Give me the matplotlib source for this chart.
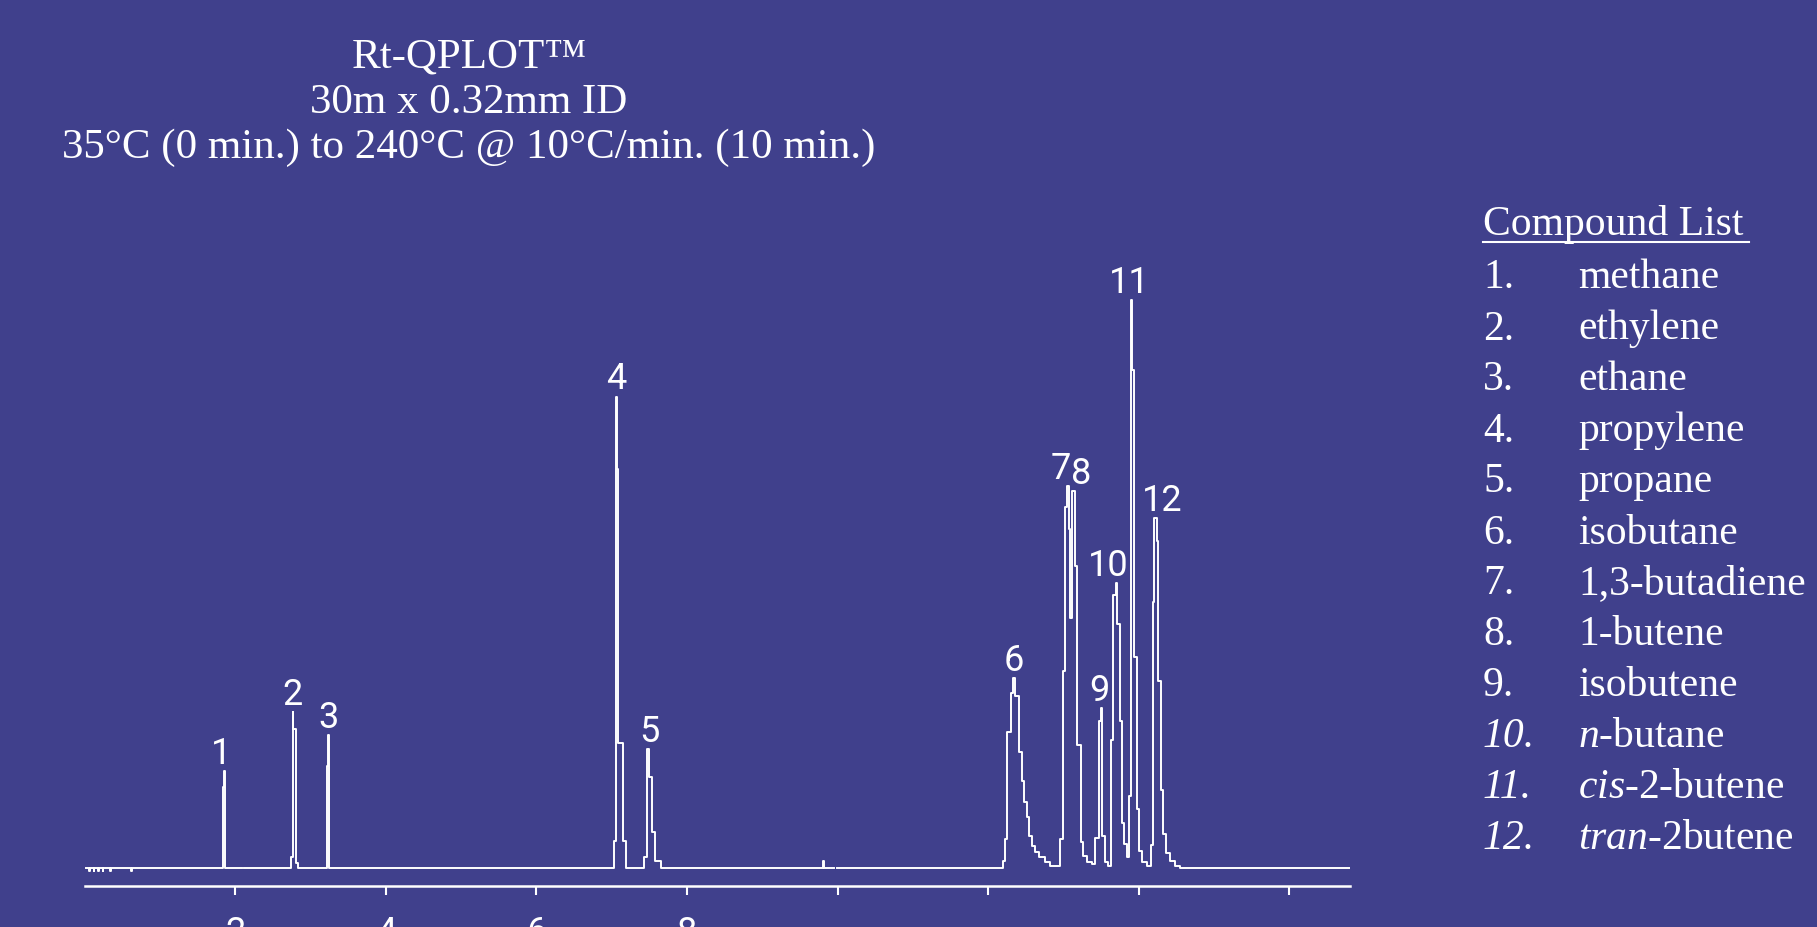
import matplotlib
matplotlib.use('Agg')
import matplotlib.pyplot as plt
from matplotlib import font_manager as fm
import numpy as np

BG = '#40408c'
FG = '#ffffff'


def first_font(names):
    for n in names:
        try:
            fm.findfont(fm.FontProperties(family=n), fallback_to_default=False)
            return n
        except ValueError:
            continue
    return 'DejaVu Sans'


# the peak numbers need a "1" without a foot bar
SANS = first_font(['Roboto', 'Noto Sans', 'Open Sans', 'Liberation Sans'])
SERIF = first_font(['Liberation Serif', 'DejaVu Serif'])

plt.rcParams.update({
    'font.family': SERIF,
    'mathtext.fontset': 'custom',
    'mathtext.rm': SERIF,
    'mathtext.it': SERIF + ':italic',
})

# ---------------------------------------------------------------- data
# detector trace, read off the picture as steps: level y holds from t onward
# (time in min, signal in % of peak 11; nan = gap in the drawn trace)
trace_t = [0.02, 0.060, 0.068, 0.120, 0.128, 0.180, 0.188, 0.240, 0.248,
           0.340, 0.348, 0.620, 0.628,
           1.834, 1.847, 1.869,
           2.09, 2.12,
           2.741, 2.763, 2.772, 2.805, 2.838,
           3.215, 3.228, 3.250,
           7.034, 7.060, 7.072, 7.087, 7.150, 7.190,
           7.433, 7.465, 7.500, 7.531, 7.570, 7.660,
           9.800, 9.813, 9.95, 9.99,
           12.193, 12.223, 12.254, 12.303, 12.333, 12.360, 12.413, 12.445,
           12.479, 12.511, 12.546, 12.578, 12.622, 12.679, 12.754, 12.821,
           12.954, 12.989, 13.020, 13.042, 13.069, 13.090, 13.110, 13.153,
           13.183, 13.228, 13.263, 13.308, 13.374,
           13.418, 13.471, 13.498, 13.515, 13.551, 13.595,
           13.627, 13.653, 13.693, 13.714, 13.750, 13.773, 13.803, 13.839,
           13.870, 13.892, 13.914, 13.940, 13.972, 14.007, 14.039, 14.105,
           14.158, 14.185, 14.206, 14.238, 14.259, 14.291, 14.325, 14.361,
           14.414, 14.480, 14.547,
           16.80]
trace_y = [0, -0.6, 0, -0.6, 0, -0.6, 0, -0.6, 0,
           -0.6, 0, -0.6, 0,
           14.3, 17.1, 0,
           np.nan, 0,
           1.9, 27.4, 24.5, 0.8, 0,
           17.9, 23.4, 0,
           4.8, 83.0, 70.2, 22.0, 4.8, 0,
           1.9, 20.9, 16.0, 6.3, 1.3, 0,
           1.2, 0, np.nan, 0,
           1.3, 5.1, 23.9, 30.9, 33.4, 30.3, 20.4, 15.4,
           11.6, 8.9, 5.7, 3.9, 2.8, 1.9, 1.0, 0.3,
           5.1, 34.7, 63.5, 67.2, 59.7, 44.1, 66.4, 53.2,
           21.6, 4.5, 2.2, 1.0, 0.7,
           5.3, 25.9, 28.2, 5.7, 1.0, 0.3,
           22.5, 48.1, 50.1, 43.0, 25.9, 8.0, 4.3, 1.9,
           12.7, 100.0, 87.7, 37.1, 10.4, 3.0, 1.0, 0.4,
           4.0, 46.8, 61.6, 57.5, 32.9, 13.7, 6.0, 2.6,
           1.3, 0.3, 0,
           0]

peak_no = [1, 2, 3, 4, 5, 6, 7, 8, 9, 10, 11, 12]
peak_rt = [1.85, 2.765, 3.235, 7.065, 7.48, 12.345, 13.055, 13.13,
           13.505, 13.70, 13.90, 14.22]

tick_pos = [2, 4, 6, 8, 10, 12, 14, 16]
tick_lab = ['2', '4', '6', '8', '', '', '', '']

title_lines = ['Rt-QPLOT\u2122',
               '30m x 0.32mm ID',
               '35\u00b0C (0 min.) to 240\u00b0C @ 10\u00b0C/min. (10 min.)']

compounds = [('1.', 'methane'), ('2.', 'ethylene'), ('3.', 'ethane'),
             ('4.', 'propylene'), ('5.', 'propane'), ('6.', 'isobutane'),
             ('7.', '1,3-butadiene'), ('8.', '1-butene'), ('9.', 'isobutene'),
             ('10.', r'$\mathit{n}$-butane'),
             ('11.', r'$\mathit{cis}$-2-butene'),
             ('12.', r'$\mathit{tran}$-2butene')]
italic_no = {'10.', '11.', '12.'}

# label nudges in pixels (layout only)
label_dx = [-3, 0, 0, 0, 2, 0, -7, 8, -2, -8, -2, 7]

# ---------------------------------------------------------------- figure
W, H = 1817, 928
fig = plt.figure(figsize=(W / 100, H / 100), dpi=100, facecolor=BG)

x0, x1 = 84.6, 1350.0          # pixel extent of the time axis
y_axis, y_top = 886.5, 150.0   # pixel rows of axis line and axes top
ax = fig.add_axes([x0 / W, (H - y_axis) / H, (x1 - x0) / W, (y_axis - y_top) / H])
ax.set_facecolor('none')
ax.set_xlim(0, 16.805)
ax.set_ylim(-3.08, 126.6)

t = np.array(trace_t)
y = np.array(trace_y, dtype=float)
ax.plot(t, y, drawstyle='steps-post', color=FG, lw=1.4)

for s in ['top', 'right', 'left']:
    ax.spines[s].set_visible(False)
ax.spines['bottom'].set_color(FG)
ax.spines['bottom'].set_linewidth(1.8)
ax.set_yticks([])
ax.set_xticks(tick_pos)
ax.set_xticklabels(tick_lab, fontfamily=SANS, fontsize=26, color=FG)
ax.tick_params(axis='x', direction='out', length=6.5, width=1.5, color=FG, pad=14)

# peak numbers above each apex
t_next = np.append(t[1:], t[-1])
for no, rt, dx in zip(peak_no, peak_rt, label_dx):
    m = (t <= rt + 0.015) & (t_next >= rt - 0.015)
    apex = np.nanmax(y[m])
    ax.annotate(str(no), xy=(rt, apex), xytext=(dx * 0.72, 6),
                textcoords='offset points', ha='center', va='baseline',
                fontsize=26, fontfamily=SANS, color=FG, annotation_clip=False)

# ---------------------------------------------------------------- title
tx = 469 / W
for i, line in enumerate(title_lines):
    fig.text(tx, 1 - (68 + 45 * i) / H, line, ha='center', va='baseline',
             fontsize=31, color=FG)

# ---------------------------------------------------------------- compound list
nx, cx = 1483 / W, 1578 / W
fig.text(nx, 1 - 235.5 / H, 'Compound List', ha='left', va='baseline',
         fontsize=30, color=FG)
fig.add_artist(plt.Line2D([1482.7 / W, 1749 / W], [1 - 242.5 / H] * 2,
                          color=FG, lw=1.5, transform=fig.transFigure))
for i, (num, name) in enumerate(compounds):
    yy = 1 - (288.5 + 51 * i) / H
    fig.text(nx, yy, num, ha='left', va='baseline', fontsize=30, color=FG,
             fontstyle='italic' if num in italic_no else 'normal')
    fig.text(cx, yy, name, ha='left', va='baseline', fontsize=30, color=FG)

fig.savefig('out.png', dpi=100, facecolor=BG)
